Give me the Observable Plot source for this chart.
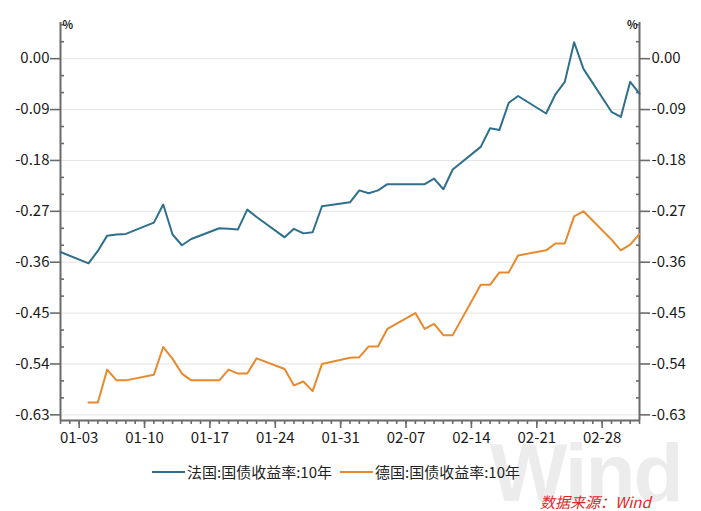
<!DOCTYPE html>
<html>
<head>
<meta charset="utf-8">
<script src="https://cdn.jsdelivr.net/npm/d3@7"></script>
<script src="https://cdn.jsdelivr.net/npm/@observablehq/plot@0.6"></script>
<style>
  body { margin: 0; background: #fff; width: 701px; height: 511px; overflow: hidden; position: relative; font-family: "Noto Sans CJK SC", "Noto Sans", sans-serif; }
  #wm { position: absolute; left: 490px; top: 432px; font: bold 82px/1 "Liberation Sans", sans-serif; color: #ececec; letter-spacing: -2px; white-space: nowrap; }
  #chart { position: absolute; left: 0; top: 0; }
  #legend { position: absolute; left: 152px; top: 461px; display: flex; align-items: center; font-size: 15px; color: #222; white-space: nowrap; }
  .sw { display: inline-block; width: 33px; height: 2px; margin-right: 2px; }
  .item { display: flex; align-items: center; margin-right: 8px; }
  #src { position: absolute; left: 540px; top: 491px; font-size: 15px; font-style: italic; color: #e3261f; white-space: nowrap; }
</style>
</head>
<body>
<div id="wm">Wind</div>
<div id="chart"></div>
<div id="legend"></div>
<div id="src">数据来源：Wind</div>
<script>
// Series names
const seriesNames = ["法国:国债收益率:10年", "德国:国债收益率:10年"];
const seriesColors = ["#2e6f8e", "#e8892b"];

// France 10Y yields (%)
const franceDates = ["2021-01-01",
  "2021-01-04","2021-01-05","2021-01-06","2021-01-07","2021-01-08",
  "2021-01-11","2021-01-12","2021-01-13","2021-01-14","2021-01-15",
  "2021-01-18","2021-01-19","2021-01-20","2021-01-21","2021-01-22",
  "2021-01-25","2021-01-26","2021-01-27","2021-01-28","2021-01-29",
  "2021-02-01","2021-02-02","2021-02-03","2021-02-04","2021-02-05",
  "2021-02-08","2021-02-09","2021-02-10","2021-02-11","2021-02-12",
  "2021-02-15","2021-02-16","2021-02-17","2021-02-18","2021-02-19",
  "2021-02-22","2021-02-23","2021-02-24","2021-02-25","2021-02-26",
  "2021-03-01","2021-03-02","2021-03-03","2021-03-04"];
const franceValues = [-0.342,
  -0.362, -0.340, -0.313, -0.311, -0.310,
  -0.290, -0.258, -0.311, -0.330, -0.319,
  -0.300, -0.301, -0.302, -0.267, -0.280,
  -0.316, -0.301, -0.309, -0.307, -0.261,
  -0.254, -0.233, -0.238, -0.233, -0.222,
  -0.222, -0.222, -0.212, -0.231, -0.196,
  -0.156, -0.123, -0.126, -0.078, -0.066,
  -0.097, -0.063, -0.041, 0.029, -0.018,
  -0.094, -0.103, -0.041, -0.062];

// Germany 10Y yields (%)
const germanyDates = [
  "2021-01-04","2021-01-05","2021-01-06","2021-01-07","2021-01-08",
  "2021-01-11","2021-01-12","2021-01-13","2021-01-14","2021-01-15",
  "2021-01-18","2021-01-19","2021-01-20","2021-01-21","2021-01-22",
  "2021-01-25","2021-01-26","2021-01-27","2021-01-28","2021-01-29",
  "2021-02-01","2021-02-02","2021-02-03","2021-02-04","2021-02-05",
  "2021-02-08","2021-02-09","2021-02-10","2021-02-11","2021-02-12",
  "2021-02-15","2021-02-16","2021-02-17","2021-02-18","2021-02-19",
  "2021-02-22","2021-02-23","2021-02-24","2021-02-25","2021-02-26",
  "2021-03-01","2021-03-02","2021-03-03","2021-03-04"];
const germanyValues = [
  -0.608, -0.608, -0.550, -0.569, -0.569,
  -0.559, -0.510, -0.531, -0.557, -0.569,
  -0.569, -0.550, -0.557, -0.557, -0.530,
  -0.549, -0.578, -0.571, -0.588, -0.540,
  -0.529, -0.528, -0.509, -0.509, -0.478,
  -0.450, -0.478, -0.469, -0.489, -0.489,
  -0.400, -0.400, -0.378, -0.378, -0.348,
  -0.339, -0.327, -0.327, -0.279, -0.270,
  -0.320, -0.339, -0.329, -0.310];

// Axis ticks
const yTicks = [0.00, -0.09, -0.18, -0.27, -0.36, -0.45, -0.54, -0.63];
const yTickLabels = ["0.00", "-0.09", "-0.18", "-0.27", "-0.36", "-0.45", "-0.54", "-0.63"];
const yMinorTicks = [0.06, 0.03, -0.03, -0.06, -0.12, -0.15, -0.21, -0.24, -0.30, -0.33, -0.39, -0.42, -0.48, -0.51, -0.57, -0.60];
const xTickDates = ["2021-01-03","2021-01-10","2021-01-17","2021-01-24","2021-01-31","2021-02-07","2021-02-14","2021-02-21","2021-02-28"];
const xTickLabels = ["01-03","01-10","01-17","01-24","01-31","02-07","02-14","02-21","02-28"];
const xDomainDates = ["2021-01-01", "2021-03-04"];
const yDomain = [-0.64, 0.064];
const unitLabel = "%";

const parse = s => new Date(s + "T00:00:00Z");
const xDomain = xDomainDates.map(parse);
const france = franceDates.map((d, i) => ({date: parse(d), value: franceValues[i]}));
const germany = germanyDates.map((d, i) => ({date: parse(d), value: germanyValues[i]}));
const xMajor = xTickDates.map(parse);
const xLabelMap = new Map(xMajor.map((d, i) => [d.getTime(), xTickLabels[i]]));
const yLabelMap = new Map(yTicks.map((v, i) => [v.toFixed(2), yTickLabels[i]]));
const xMinor = d3.utcDay.range(xDomain[0], d3.utcDay.offset(xDomain[1], 1));

const axisColor = "#6b6b6b";
const fmtY = v => yLabelMap.get(v.toFixed(2));
const fmtX = d => xLabelMap.get(d.getTime());

const chart = Plot.plot({
  width: 701,
  height: 455,
  marginLeft: 60,
  marginRight: 62,
  marginTop: 22,
  marginBottom: 35,
  style: {fontFamily: '"Noto Sans CJK SC", "Noto Sans", sans-serif', fontSize: "15px", color: "#1a1a1a", background: "transparent"},
  x: {type: "utc", domain: xDomain, label: null},
  y: {domain: yDomain, label: null},
  marks: [
    Plot.gridY(yTicks, {stroke: "#e4e4e4", strokeOpacity: 1, strokeWidth: 1}),
    // left axis
    Plot.axisY(yTicks, {anchor: "left", tickSize: 10, tickPadding: 1, tickFormat: fmtY, stroke: axisColor, strokeWidth: 1.6, label: null}),
    Plot.axisY(yMinorTicks, {anchor: "left", tickSize: -4, tickFormat: () => "", stroke: axisColor, strokeWidth: 1.6, label: null}),
    // right axis
    Plot.axisY(yTicks, {anchor: "right", tickSize: 10, tickPadding: 2, tickFormat: fmtY, stroke: axisColor, strokeWidth: 1.6, label: null}),
    Plot.axisY(yMinorTicks, {anchor: "right", tickSize: -4, tickFormat: () => "", stroke: axisColor, strokeWidth: 1.6, label: null}),
    // bottom axis
    Plot.axisX(xMinor, {anchor: "bottom", tickSize: 4, tickFormat: () => "", stroke: axisColor, strokeWidth: 1.6, label: null}),
    Plot.axisX(xMajor, {anchor: "bottom", tickSize: 8, tickPadding: 4, tickFormat: fmtX, stroke: axisColor, strokeWidth: 1.6, label: null}),
    Plot.ruleX([xDomain[0]], {stroke: axisColor, strokeWidth: 2}),
    Plot.ruleX([xDomain[1]], {stroke: axisColor, strokeWidth: 2}),
    Plot.ruleY([yDomain[0]], {stroke: axisColor, strokeWidth: 2}),
    Plot.text([unitLabel], {frameAnchor: "top-left", text: d => d, dx: 2, dy: 3, lineAnchor: "middle", textAnchor: "start", fontSize: 11, fontWeight: "bold"}),
    Plot.text([unitLabel], {frameAnchor: "top-right", text: d => d, dx: -2, dy: 3, lineAnchor: "middle", textAnchor: "end", fontSize: 11, fontWeight: "bold"}),
    // series
    Plot.line(france, {x: "date", y: "value", stroke: seriesColors[0], strokeWidth: 2}),
    Plot.line(germany, {x: "date", y: "value", stroke: seriesColors[1], strokeWidth: 2})
  ]
});
document.getElementById("chart").appendChild(chart);

const legend = document.getElementById("legend");
seriesNames.forEach((name, i) => {
  const item = document.createElement("span");
  item.className = "item";
  const sw = document.createElement("span");
  sw.className = "sw";
  sw.style.background = seriesColors[i];
  const t = document.createElement("span");
  t.textContent = name;
  item.appendChild(sw);
  item.appendChild(t);
  legend.appendChild(item);
});
</script>
</body>
</html>
